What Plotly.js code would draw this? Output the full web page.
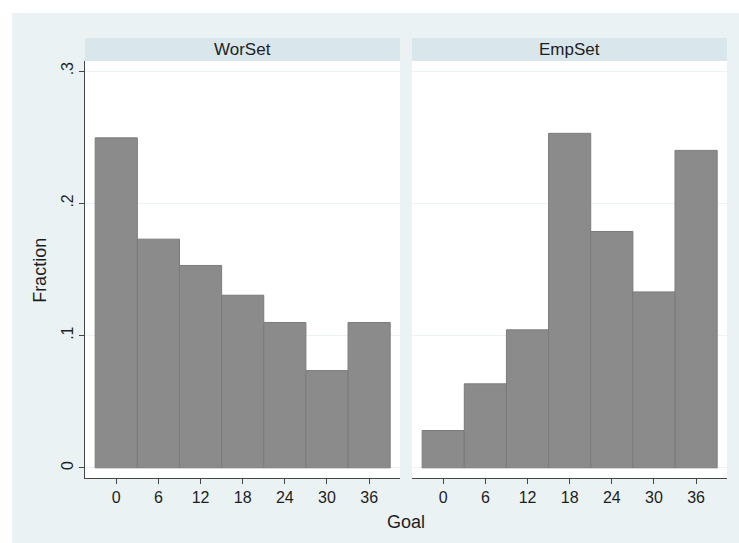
<!DOCTYPE html>
<html>
<head>
<meta charset="utf-8">
<script src="https://cdn.plot.ly/plotly-3.0.1.min.js"></script>
<style>
  html, body { margin: 0; padding: 0; background: #ffffff; }
  #chart { position: absolute; left: 12px; top: 13px; width: 727px; height: 530px; }
</style>
</head>
<body>
<div id="chart"></div>
<script>
// Data (fraction per 6-unit bin)
const goalBins = [0, 6, 12, 18, 24, 30, 36];
const worSetFraction = [0.2495, 0.1729, 0.1530, 0.1305, 0.1099, 0.0735, 0.1099];
const empSetFraction = [0.0282, 0.0635, 0.1043, 0.2529, 0.1787, 0.1330, 0.2400];
const panelNames = ["WorSet", "EmpSet"];
const yTickVals = [0, 0.1, 0.2, 0.3];
const yTickText = ["0", ".1", ".2", ".3"];

const barFill = "#8b8b8b";
const barLine = "#7b7b7b";
const bgColor = "#eaf2f3";
const stripColor = "#d9e6ec";
const gridColor = "#eaf2f3";
const textColor = "#1e1e1e";
const fontFam = "Liberation Sans, Arial, Helvetica, sans-serif";

const traces = [
  {
    type: "bar", x: goalBins, y: worSetFraction, width: 6,
    xaxis: "x", yaxis: "y",
    marker: { color: barFill, line: { color: barLine, width: 1 } },
    hoverinfo: "x+y", showlegend: false
  },
  {
    type: "bar", x: goalBins, y: empSetFraction, width: 6,
    xaxis: "x2", yaxis: "y2",
    marker: { color: barFill, line: { color: barLine, width: 1 } },
    hoverinfo: "x+y", showlegend: false
  }
];

const xCommon = {
  range: [-4.45, 40.4],
  tickvals: goalBins,
  ticktext: goalBins.map(String),
  ticks: "outside", ticklen: 5, tickwidth: 1, tickcolor: "#444",
  showline: true, linecolor: "#444", linewidth: 1,
  showgrid: false, zeroline: false,
  tickfont: { family: fontFam, size: 16, color: textColor },
  fixedrange: true
};
const yRange = [-0.0077, 0.3076];

const layout = {
  width: 727, height: 530,
  margin: { l: 73, r: 12, t: 48, b: 65.3, pad: 0 },
  paper_bgcolor: bgColor,
  plot_bgcolor: "#ffffff",
  bargap: 0,
  font: { family: fontFam, color: textColor },
  xaxis: Object.assign({}, xCommon, { domain: [0, 0.4907], anchor: "y" }),
  xaxis2: Object.assign({}, xCommon, { domain: [0.5093, 1], anchor: "y2" }),
  yaxis: {
    domain: [0, 1], anchor: "x", range: yRange,
    tickvals: yTickVals, ticktext: yTickText, tickangle: -90,
    ticks: "outside", ticklen: 5, tickwidth: 1, tickcolor: "#444",
    showline: true, linecolor: "#444", linewidth: 1,
    showgrid: true, gridcolor: gridColor, gridwidth: 1, zeroline: false,
    tickfont: { family: fontFam, size: 16, color: textColor },
    fixedrange: true
  },
  yaxis2: {
    domain: [0, 1], anchor: "x2", range: yRange,
    tickvals: yTickVals, showticklabels: false, ticks: "",
    showline: false, showgrid: true, gridcolor: gridColor, gridwidth: 1, zeroline: false,
    fixedrange: true
  },
  shapes: [
    { type: "rect", xref: "x domain", yref: "paper", x0: 0, x1: 1, y0: 1, y1: 1.0552,
      fillcolor: stripColor, line: { width: 0 }, layer: "below" },
    { type: "rect", xref: "x2 domain", yref: "paper", x0: 0, x1: 1, y0: 1, y1: 1.0552,
      fillcolor: stripColor, line: { width: 0 }, layer: "below" }
  ],
  annotations: [
    { text: panelNames[0], xref: "x domain", yref: "paper", x: 0.5, y: 1.0276,
      xanchor: "center", yanchor: "middle", showarrow: false,
      font: { family: fontFam, size: 17, color: textColor } },
    { text: panelNames[1], xref: "x2 domain", yref: "paper", x: 0.5, y: 1.0276,
      xanchor: "center", yanchor: "middle", showarrow: false,
      font: { family: fontFam, size: 17, color: textColor } },
    { text: "Goal", xref: "paper", yref: "paper", x: 0.5, y: -0.105,
      xanchor: "center", yanchor: "middle", showarrow: false,
      font: { family: fontFam, size: 18, color: textColor } },
    { text: "Fraction", xref: "paper", yref: "paper", x: -0.0705, y: 0.4985,
      xanchor: "center", yanchor: "middle", textangle: -90, showarrow: false,
      font: { family: fontFam, size: 18, color: textColor } }
  ]
};

Plotly.newPlot("chart", traces, layout, { displayModeBar: false, staticPlot: true });
</script>
</body>
</html>
